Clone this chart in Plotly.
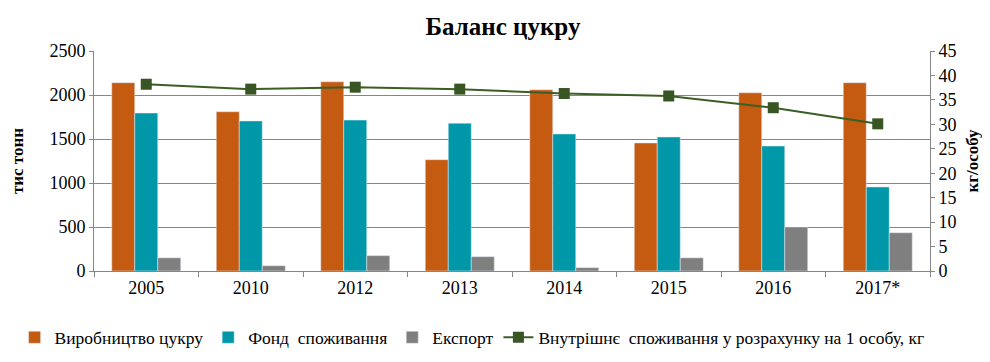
import plotly.graph_objects as go

years = ["2005", "2010", "2012", "2013", "2014", "2015", "2016", "2017*"]
production = [2140, 1810, 2150, 1265, 2060, 1455, 2025, 2140]
consumption_fund = [1795, 1705, 1715, 1680, 1557, 1523, 1420, 955]
export = [150, 60, 175, 163, 38, 150, 500, 435]
per_capita = [38.2, 37.2, 37.6, 37.2, 36.3, 35.8, 33.4, 30.1]

FONT = "Liberation Serif"
TICKFONT = dict(family=FONT, size=18, color="black")

fig = go.Figure()
fig.add_trace(go.Bar(x=years, y=production, name="Виробництво цукру", marker_color="#C55A11"))
fig.add_trace(go.Bar(x=years, y=consumption_fund, name="Фонд  споживання", marker_color="#0098A8"))
fig.add_trace(go.Bar(x=years, y=export, name="Експорт", marker_color="#7F7F7F"))
fig.add_trace(go.Scatter(x=years, y=per_capita, yaxis="y2", mode="lines+markers",
                         name="Внутрішнє  споживання у розрахунку на 1 особу, кг",
                         line=dict(color="#3B5E27", width=2),
                         marker=dict(symbol="square", size=11, color="#375623")))

fig.update_layout(
    width=990, height=362,
    margin=dict(l=86, r=68, t=43, b=99, autoexpand=False),
    paper_bgcolor="white", plot_bgcolor="white",
    font=dict(family=FONT, size=18, color="black"),
    title=dict(text="<b>Баланс цукру</b>", x=0.5, xanchor="center", y=0.975, yanchor="top",
               font=dict(family=FONT, size=25, color="black")),
    barmode="group", bargap=0.34, bargroupgap=0,
    showlegend=True,
    legend=dict(orientation="h", x=-0.095, xanchor="left",
                y=-0.22, yanchor="top",
                font=dict(family=FONT, size=17.5, color="black"), traceorder="normal",
                itemwidth=30, tracegroupgap=0),
    xaxis=dict(showline=True, linecolor="#868686", ticks="outside", tickson="boundaries",
               ticklen=5, tickcolor="#868686", showgrid=False, automargin=False,
               tickfont=TICKFONT),
    yaxis=dict(range=[0, 2500], dtick=500, showgrid=True, gridcolor="#868686", gridwidth=1,
               showline=True, linecolor="#868686", ticks="outside", ticklen=4, tickcolor="#868686",
               title=dict(text="<b>тис тонн</b>", font=dict(family=FONT, size=17, color="black"), standoff=24),
               zeroline=False, automargin=False, tickfont=TICKFONT),
    yaxis2=dict(range=[0, 45], dtick=5, overlaying="y", side="right", showgrid=False,
                showline=True, linecolor="#868686", ticks="outside", ticklen=4, tickcolor="#868686",
                title=dict(text="<b>кг/особу</b>", font=dict(family=FONT, size=17, color="black"), standoff=10),
                zeroline=False, automargin=False, tickfont=TICKFONT),
)

fig.write_html("out.html")
